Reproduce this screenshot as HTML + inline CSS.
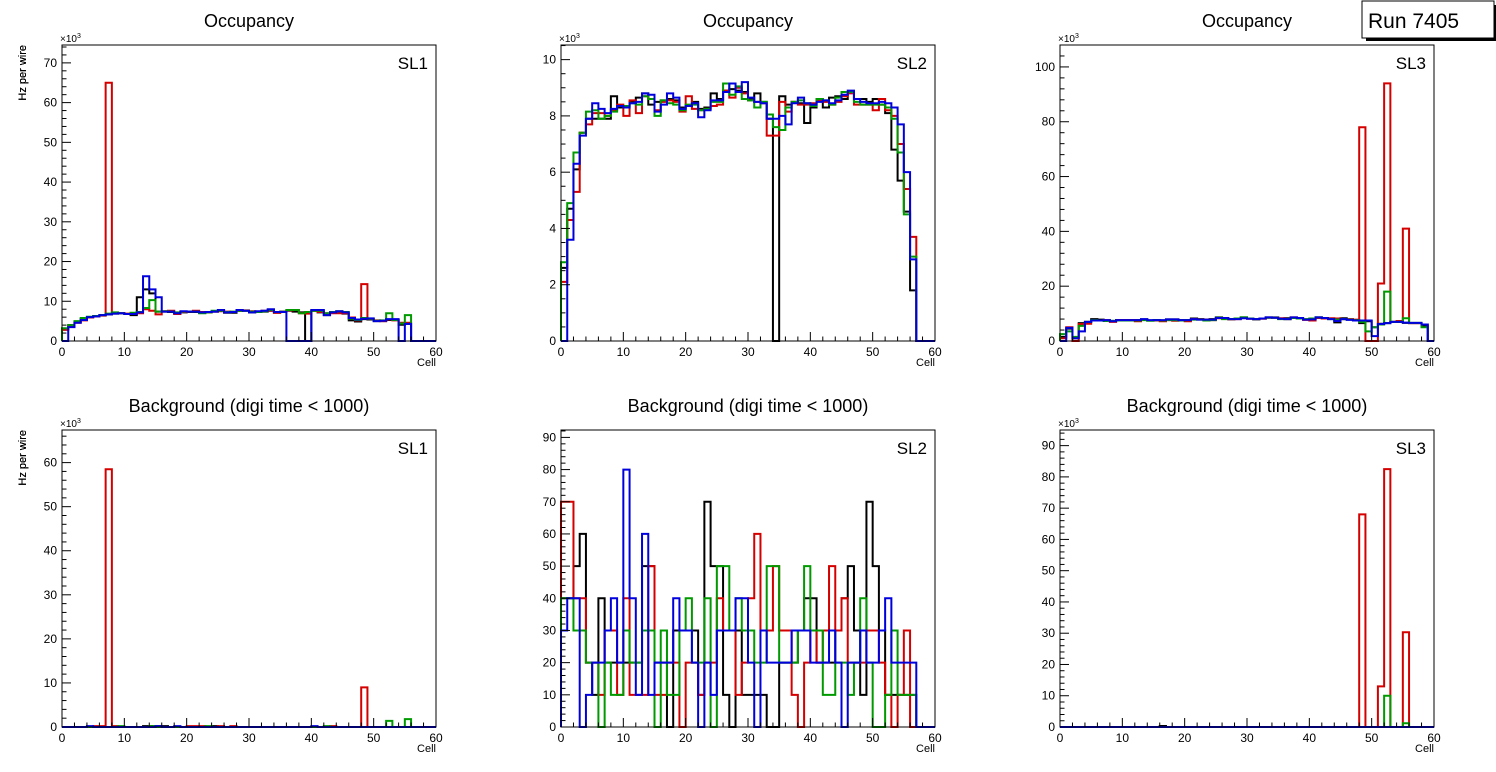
<!DOCTYPE html>
<html><head><meta charset="utf-8"><style>
body{margin:0;background:#fff;}
svg{display:block;font-family:"Liberation Sans",sans-serif;}
</style></head><body>
<svg id="c" width="1496" height="772" viewBox="0 0 1496 772"></svg>
<script>
// ---- data (values in plotted units) ----
const tlBlack=[3,4,4.8,5.5,6,6.2,6.5,6.7,6.9,7,6.8,6.5,11,13,12,7.4,7.4,7.3,7,7.2,7.3,7.3,7.1,7.2,7.4,7.6,7.1,7.1,7.6,7.6,7.2,7.3,7.4,7.6,7.1,7.4,7.6,7.4,7.2,0,7.6,7.2,6.5,7.1,7.1,6.9,5.2,4.9,5.5,5.4,5.0,5.0,5.3,5.3,4.1,4.3,0,0,0,0];
const tlRed=[2.8,3.6,4.6,5.2,5.9,6.2,6.4,65,7,7,6.9,6.8,7,8,7.6,6.7,7.5,7.6,6.8,7.3,7.4,7.6,7.3,7.2,7.4,7.5,7.4,7.3,7.6,7.7,7.5,7.3,7.6,7.6,7.1,7.3,7.7,7.8,7.0,6.9,7.6,7.3,7.0,7.0,7.0,7.0,5.9,5.2,14.3,5.6,5.2,5.0,5.4,5.2,4.6,4.6,0,0,0,0];
const tlGreen=[3.2,4,5,5.8,6.1,6.3,6.5,6.9,7.2,7.0,6.8,7.1,7.3,8.3,10.3,7.4,7.5,7.4,7.2,7.4,7.4,7.4,7,7.2,7.6,7.6,7.3,7.4,7.6,7.6,7.4,7.3,7.5,7.8,7.3,7.3,7.8,7.8,7.0,7.3,7.6,7.6,7.0,7.3,7.5,7.3,5.6,5.3,5.8,5.6,5.1,5.2,7.0,5.3,4.4,6.5,0,0,0,0];
const tlBlue=[0,3.5,4.6,5.3,6,6.2,6.5,6.7,6.9,7,6.8,6.8,7.2,16.3,13,11,7.4,7.4,7,7.5,7.4,7.4,7.2,7.3,7.4,7.8,7.2,7.3,7.8,7.6,7.2,7.5,7.6,8.0,7.3,7.3,0,0,0,0,7.8,7.8,6.5,7.2,7.5,7.2,5.8,5.4,5.6,5.7,5.0,5.1,5.5,5.5,0,4.3,0,0,0,0];

const tmBlack=[2.6,4.7,6.1,7.4,7.9,7.9,7.9,7.9,8.7,8.3,8.3,8.5,8.65,8.8,8.4,8.5,8.55,8.6,8.55,8.3,8.35,8.5,8.25,8.3,8.8,8.6,8.9,8.95,8.9,8.85,8.6,8.8,8.5,7.9,0,8.7,8.4,8.5,8.45,7.75,8.3,8.6,8.3,8.65,8.7,8.6,8.85,8.6,8.6,8.5,8.6,8.4,8.1,6.8,5.7,4.6,1.8,0,0,0];
const tmRed=[2.1,4.3,5.3,7.4,7.7,8.1,8.1,8.0,8.2,8.4,8.0,8.55,8.1,8.7,8.6,8.2,8.5,8.55,8.5,8.15,8.7,8.25,8.2,8.25,8.35,8.4,8.9,8.65,9.0,8.8,8.55,8.5,8.45,7.3,7.3,8.5,8.15,8.5,8.4,8.4,8.45,8.55,8.5,8.4,8.5,8.7,8.8,8.4,8.4,8.4,8.2,8.6,8.2,8.0,7.0,5.4,3.7,0,0,0];
const tmGreen=[2.8,4.9,6.7,7.4,8.15,8.2,7.9,8.0,8.15,8.35,8.35,8.45,8.4,8.7,8.6,8.0,8.55,8.45,8.4,8.2,8.4,8.4,8.2,8.25,8.5,8.5,9.15,8.75,9.05,8.6,8.55,8.3,8.5,8.05,7.6,7.5,8.3,8.5,8.55,8.45,8.35,8.6,8.55,8.4,8.65,8.85,8.85,8.5,8.4,8.4,8.4,8.4,8.3,7.9,6.7,4.5,3.0,0,0,0];
const tmBlue=[0,3.6,6.3,7.3,7.9,8.45,8.25,8.1,8.25,8.35,8.3,8.45,8.5,8.8,8.75,8.15,8.4,8.8,8.65,8.25,8.35,8.45,7.95,8.2,8.55,8.55,8.85,9.15,8.85,9.2,8.65,8.5,8.45,7.9,7.9,8.0,7.7,8.45,8.65,8.45,8.4,8.5,8.55,8.45,8.55,8.75,8.9,8.6,8.5,8.45,8.45,8.5,8.45,8.3,7.7,6.0,2.9,0,0,0];

const trBlack=[1.5,4.5,1,6.5,7,8,7.8,7.5,7.3,7.6,7.6,7.6,7.6,7.9,7.5,7.6,7.5,7.9,7.9,7.6,7.6,8.2,8,7.8,8,8.6,8.3,8,8.2,8.6,8.2,7.9,8.2,8.6,8.6,8.1,8.3,8.5,8.2,7.9,8.1,8.6,8.2,8.2,6.8,8.3,7.9,7.5,6.5,7.2,5,6.3,6.5,7,7,6.6,6.5,6.5,5.5,0];
const trRed=[1,5,0,6.2,6.3,7.5,7.5,7.6,7,7.6,7.6,7.6,7.2,7.8,7.5,7.5,7.2,7.6,7.4,7.5,7.2,8,7.9,7.8,7.6,8.3,8.2,7.9,8,8.4,8.1,8,8.1,8.5,8.5,8.3,8,8.6,8.2,7.7,7.5,8.4,8.2,8.3,8.2,8,8,7.8,78,0,0,21,94,7,7.3,41,6.5,6.5,6,0];
const trGreen=[2.5,3.5,1.5,5.5,7,7.6,7.5,7.3,7.4,7.5,7.5,7.5,7.5,7.6,7.4,7.6,7.5,7.6,7.6,7.5,7.6,7.8,7.8,7.5,7.6,8.5,8,8,8.2,8.6,8.2,8,8.2,8.5,8.5,8,8,8.4,8.2,8,8.2,8.6,8.4,8,7.8,8,7.8,7.6,7,3.5,5,6,18,7,7,8.3,6.6,6.6,5,0];
const trBlue=[0,4.8,1,3.5,7,7.5,7.5,7.6,7.2,7.6,7.6,7.6,7.6,8,7.6,7.6,7.6,7.9,7.9,7.6,7.6,8,7.8,7.8,7.8,8.4,8.4,8,8,8.3,8.1,8,8.2,8.6,8.5,8.1,8,8.6,8.4,7.8,7.9,8.6,8.4,8,7.3,8,7.7,7.5,7.5,7.5,1.8,6.2,6.5,7,7,6.7,6.6,6.6,6,0];

const blBlack=[0,0,0,0,0,0,0,0,0,0,0,0,0,0.2,0.2,0.2,0.2,0,0,0,0,0,0,0,0.2,0,0,0,0,0,0,0,0,0,0,0,0,0,0,0,0,0,0,0,0,0,0,0,0,0,0,0,0,0,0,0,0,0,0,0];
const blRed=[0,0,0,0,0,0.2,0.2,58.5,0.2,0,0,0,0,0,0,0,0,0,0,0,0.2,0.2,0.2,0,0,0.2,0,0.2,0,0,0,0,0,0,0,0,0,0,0,0,0,0,0,0.2,0,0,0,0,9,0,0,0,0,0,0,0,0,0,0,0];
const blGreen=[0,0,0,0,0,0,0,0,0,0.2,0,0,0,0,0.2,0,0,0,0,0,0,0,0,0.2,0,0,0,0,0,0,0,0,0,0,0,0,0,0,0,0,0,0,0.2,0,0,0,0,0,0,0,0,0,1.4,0,0,1.8,0,0,0,0];
const blBlue=[0,0,0,0,0.2,0,0,0,0,0,0,0,0,0,0,0.2,0,0,0.2,0,0,0,0,0,0,0,0,0,0,0,0,0,0,0,0,0,0,0,0,0,0.2,0,0,0,0,0,0,0,0,0,0,0,0,0,0,0,0,0,0,0];

const bmBlack=[40,40,50,60,20,10,40,20,20,20,20,20,20,50,50,20,20,0,30,30,30,30,10,70,50,50,10,0,30,10,10,10,10,0,0,20,20,20,30,40,40,20,20,20,30,40,50,30,10,70,50,30,10,10,10,10,10,0,0,0];
const bmRed=[70,70,40,40,20,20,10,30,30,10,40,10,10,10,50,10,10,20,20,0,20,20,10,20,20,40,30,30,10,20,40,60,30,30,50,30,30,10,0,20,30,20,30,50,30,40,20,20,20,30,30,20,10,0,10,30,0,0,0,0];
const bmGreen=[40,40,30,30,20,20,0,20,10,10,30,20,20,30,30,0,30,10,10,30,40,20,20,40,0,50,50,30,40,30,30,20,20,50,50,20,20,20,30,50,30,30,10,10,20,20,10,20,40,20,0,0,10,30,10,10,10,0,0,0];
const bmBlue=[30,40,40,0,10,20,20,30,40,20,80,40,10,60,10,20,20,20,40,30,30,20,0,20,10,30,30,30,40,40,20,0,30,20,20,20,20,30,30,30,20,20,20,30,20,0,20,20,30,20,20,30,40,20,20,20,20,0,0,0];

const brBlack=[0,0,0,0,0,0,0,0,0,0,0,0,0,0,0,0,0.3,0,0,0,0,0,0,0,0,0,0,0,0,0,0,0,0,0,0,0,0,0,0,0,0,0,0,0,0,0,0,0,0,0,0,0,0,0,0,0,0,0,0,0];
const brRed=[0,0,0,0,0,0,0,0,0,0,0,0,0,0,0,0,0,0,0,0,0,0,0,0,0,0,0,0,0,0,0,0,0,0,0,0,0,0,0,0,0,0,0,0,0,0,0,0,68,0,0,13,82.5,0,0,30.3,0,0,0,0];
const brGreen=[0,0,0,0,0,0,0,0,0,0,0,0,0,0,0,0,0,0,0,0,0,0,0,0,0,0,0,0,0,0,0,0,0,0,0,0,0,0,0,0,0,0,0,0,0,0,0,0,0,0,0,0,10,0,0,1.2,0,0,0,0];
const brBlue=[0,0,0,0,0,0,0,0,0,0,0,0,0,0,0,0,0,0,0,0,0,0,0,0,0,0,0,0,0,0,0,0,0,0,0,0,0,0,0,0,0,0,0,0,0,0,0,0,0,0,0,0,0,0,0,0,0,0,0,0];

const xTicks=[0,10,20,30,40,50,60];
const seriesColors=["#000000","#d40000","#009900","#0000dd"];

const NS="http://www.w3.org/2000/svg";
const svg=document.getElementById('c');
function mk(tag,attrs,parent){const e=document.createElementNS(NS,tag);for(const k in attrs)e.setAttribute(k,attrs[k]);(parent||svg).appendChild(e);return e;}
function txt(s,attrs,parent){const e=mk('text',attrs,parent);e.textContent=s;return e;}

const panels=[
 {id:'occ-sl1',title:'Occupancy',sl:'SL1',L:62,R:436,T:45,B:341,ymax:74.5,major:10,minor:2,exp:true,data:[tlBlack,tlRed,tlGreen,tlBlue]},
 {id:'occ-sl2',title:'Occupancy',sl:'SL2',L:561,R:935,T:45,B:341,ymax:10.52,major:2,minor:0.5,exp:true,data:[tmBlack,tmRed,tmGreen,tmBlue]},
 {id:'occ-sl3',title:'Occupancy',sl:'SL3',L:1060,R:1434,T:45,B:341,ymax:108,major:20,minor:4,exp:true,data:[trBlack,trRed,trGreen,trBlue]},
 {id:'bkg-sl1',title:'Background (digi time < 1000)',sl:'SL1',L:62,R:436,T:430,B:727,ymax:67.4,major:10,minor:2,exp:true,data:[blBlack,blRed,blGreen,blBlue]},
 {id:'bkg-sl2',title:'Background (digi time < 1000)',sl:'SL2',L:561,R:935,T:430,B:727,ymax:92.3,major:10,minor:2,exp:false,data:[bmBlack,bmRed,bmGreen,bmBlue]},
 {id:'bkg-sl3',title:'Background (digi time < 1000)',sl:'SL3',L:1060,R:1434,T:430,B:727,ymax:95,major:10,minor:2,exp:true,data:[brBlack,brRed,brGreen,brBlue]}
];

panels.forEach(p=>{
  const g=mk('g',{});
  
  
  const xs=v=>p.L+(p.R-p.L)*v/60;
  const ys=v=>p.B-(p.B-p.T)*Math.min(v,p.ymax)/p.ymax;
  const cx=(p.L+p.R)/2;
  const t=txt(p.title,{x:cx,y:p.T-18,'text-anchor':'middle','font-size':18},g);
  
  
  // series
  p.data.forEach((arr,si)=>{
    let d='M'+xs(0)+','+ys(0);
    arr.forEach((v,i)=>{d+=' L'+xs(i)+','+ys(v)+' L'+xs(i+1)+','+ys(v);});
    d+=' L'+xs(60)+','+ys(0);
    const path=mk('path',{d:d,fill:'none',stroke:seriesColors[si],'stroke-width':2,'stroke-linejoin':'miter'},g);
    
    
  });
  // frame
  const fr=mk('rect',{x:p.L,y:p.T,width:p.R-p.L,height:p.B-p.T,fill:'none',stroke:'#000','stroke-width':1},g);
  
  
  // x ticks
  for(let v=0;v<=60;v+=2){
    const big=v%10===0;
    mk('line',{x1:xs(v),x2:xs(v),y1:p.B,y2:p.B-(big?9:4.5),stroke:'#000','stroke-width':1},g);
  }
  xTicks.forEach(v=>{
    const l=txt(String(v),{x:xs(v),y:p.B+15,'text-anchor':'middle','font-size':12},g);
    
    
  });
  const xt=txt('Cell',{x:p.R,y:p.B+25,'text-anchor':'end','font-size':11},g);
  
  
  // y ticks
  const nMinor=Math.floor(p.ymax/p.minor+1e-6);
  for(let k=0;k<=nMinor;k++){
    const v=k*p.minor;
    const big=Math.abs(v/p.major-Math.round(v/p.major))<1e-6;
    mk('line',{x1:p.L,x2:p.L+(big?9:4.5),y1:ys(v),y2:ys(v),stroke:'#000','stroke-width':1},g);
    if(big){
      const l=txt(String(Math.round(v)),{x:p.L-5,y:ys(v)+4,'text-anchor':'end','font-size':12},g);
      
      
    }
  }
  if(p.exp){
    const e=txt('×10',{x:p.L-2,y:p.T-3,'font-size':10},g);
    const s=mk('tspan',{dy:-4,'font-size':7},e);s.textContent='3';
    
    
  }
  const yt=txt('Hz per wire',{transform:'translate(26,'+p.T+') rotate(-90)','text-anchor':'end','font-size':11},g);
  
  
  const sl=txt(p.sl,{x:p.R-8,y:p.T+24,'text-anchor':'end','font-size':17},g);
  
  
});

// run label box
const rb=mk('g',{});


mk('rect',{x:1366,y:38,width:130,height:3,fill:'#000'},rb);
mk('rect',{x:1493,y:5,width:3,height:36,fill:'#000'},rb);
mk('rect',{x:1362,y:1,width:132,height:37,fill:'#fff',stroke:'#000','stroke-width':1},rb);
txt('Run 7405',{x:1368,y:28,'font-size':21},rb);
</script>
</body></html>
